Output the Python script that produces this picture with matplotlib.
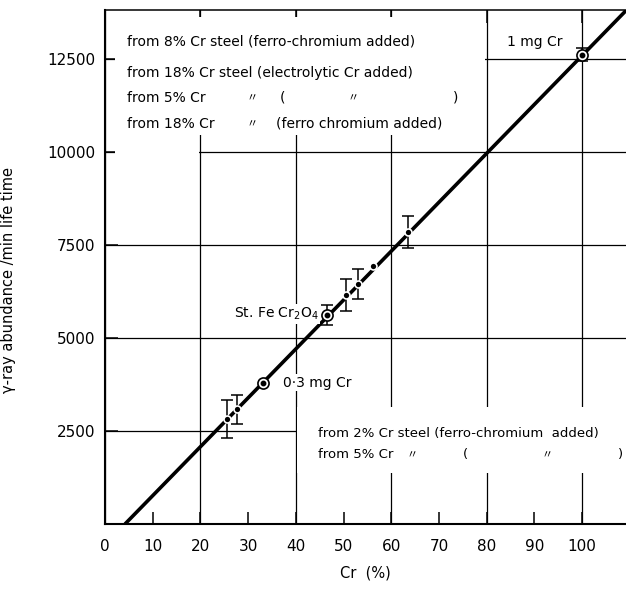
import numpy as np
import matplotlib.pyplot as plt
from matplotlib.patches import Rectangle

plt.rcParams['font.family'] = ['DejaVu Sans', 'Noto Sans CJK JP']

#-------------------------------------------------------------
# data
#-------------------------------------------------------------
# steel samples (filled dots)
steel_cr = [25.6, 27.7, 50.5, 53.0, 56.2, 63.5]
steel_counts = [2820, 3090, 6150, 6450, 6930, 7850]
steel_err = [520, 390, 430, 400, 0, 440]

# standards (circled dots)
std_cr = [33.1, 46.5, 100.0]
std_counts = [3800, 5620, 12620]
std_err = [0, 270, 170]

# calibration line end points
fit_cr = [4.2, 112.0]
fit_counts = [0, 14170]

x_major = [0, 20, 40, 60, 80, 100]
x_minor = [10, 30, 50, 70, 90]
y_ticks = [2500, 5000, 7500, 10000, 12500]

#-------------------------------------------------------------
# figure
#-------------------------------------------------------------
fig = plt.figure(figsize=(6.26, 5.94), dpi=100)
ax = fig.add_axes([105/626, 70/594, 521/626, 514/594])
ax.set_xlim(0, 109.2)
ax.set_ylim(0, 13817)

ax.set_xticks(x_major)
ax.set_xticks(x_minor, minor=True)
ax.set_xticklabels([str(v) for v in x_major])
ax.set_xticklabels([str(v) for v in x_minor], minor=True)
ax.set_yticks(y_ticks)
ax.set_yticklabels([str(v) for v in y_ticks])
ax.tick_params(which='both', direction='in', length=9, width=1.1, labelsize=11)
ax.tick_params(axis='x', which='both', pad=11)
ax.tick_params(axis='x', which='major', top=True)
ax.tick_params(axis='y', pad=7)

ax.set_axisbelow(True)
ax.grid(True, which='major', color='black', lw=0.9)

for s in ['left', 'bottom']:
    ax.spines[s].set_linewidth(1.5)
ax.spines['top'].set_linewidth(1.1)
ax.spines['right'].set_visible(False)

# white areas where the graph paper lines stop around the notes
ax.add_patch(Rectangle((2.2, 10450), 77.4, 3177, facecolor='white', edgecolor='none', zorder=1))
ax.add_patch(Rectangle((2.2, 7650), 17.6, 2900, facecolor='white', edgecolor='none', zorder=1))
ax.add_patch(Rectangle((40.3, 1370), 70, 1780, facecolor='white', edgecolor='none', zorder=1))

# calibration line
ax.plot(fit_cr, fit_counts, color='black', lw=2.6, solid_capstyle='butt', zorder=2)

# error bars (only where there is one)
se = np.array(steel_err)
sm = se > 0
ax.errorbar(np.array(steel_cr)[sm], np.array(steel_counts)[sm], yerr=se[sm],
            fmt='none', ecolor='black', elinewidth=1.1, capsize=4, capthick=1.1, zorder=3)
de = np.array(std_err)
dm = de > 0
ax.errorbar(np.array(std_cr)[dm], np.array(std_counts)[dm], yerr=de[dm],
            fmt='none', ecolor='black', elinewidth=1.1, capsize=4, capthick=1.1, zorder=3)

ax.plot(steel_cr, steel_counts, 'o', ms=5, mfc='black', mec='white', mew=1.2, zorder=4)
ax.plot(std_cr, std_counts, 'o', ms=8, mfc='white', mec='black', mew=1.2, zorder=4)
ax.plot(std_cr, std_counts, 'o', ms=3.2, color='black', zorder=5)

#-------------------------------------------------------------
# notes
#-------------------------------------------------------------
fs = 10
wb = dict(facecolor='white', edgecolor='none', pad=1)
ax.text(4.6, 12957, "from 8% Cr steel (ferro-chromium added)", fontsize=fs, va='center')
ax.text(4.6, 12124, "from 18% Cr steel (electrolytic Cr added)", fontsize=fs, va='center')
ax.text(4.6, 11452, "from 5% Cr", fontsize=fs, va='center')
ax.text(30.8, 11452, "〃", fontsize=8, va='center', ha='center')
ax.text(37.1, 11452, "(", fontsize=fs, va='center', ha='center')
ax.text(52.0, 11452, "〃", fontsize=8, va='center', ha='center')
ax.text(73.4, 11452, ")", fontsize=fs, va='center', ha='center')
ax.text(4.6, 10753, "from 18% Cr", fontsize=fs, va='center')
ax.text(30.8, 10753, "〃", fontsize=8, va='center', ha='center')
ax.text(35.8, 10753, "(ferro chromium added)", fontsize=fs, va='center')

ax.text(84.3, 12957, "1 mg Cr", fontsize=fs, va='center')
ax.text(44.7, 5645, "St. Fe Cr$_2$O$_4$", fontsize=fs, va='center', ha='right', bbox=wb, zorder=2)
ax.text(37.3, 3800, "0·3 mg Cr", fontsize=fs, va='center', bbox=wb, zorder=2)

ax.text(44.7, 2446, "from 2% Cr steel (ferro-chromium  added)", fontsize=9.5, va='center')
ax.text(44.7, 1855, "from 5% Cr", fontsize=9.5, va='center')
ax.text(64.4, 1855, "〃", fontsize=8, va='center', ha='center')
ax.text(75.5, 1855, "(", fontsize=9.5, va='center', ha='center')
ax.text(92.7, 1855, "〃", fontsize=8, va='center', ha='center')
ax.text(108.0, 1855, ")", fontsize=9.5, va='center', ha='center')

fig.text(9/626, 1 - 280/594, "γ-ray abundance /min life time", rotation=90,
         fontsize=10.5, ha='center', va='center')
fig.text(365/626, 1 - 573/594, "Cr  (%)", fontsize=10.5, ha='center', va='center')

fig.savefig("out.png", dpi=100)
